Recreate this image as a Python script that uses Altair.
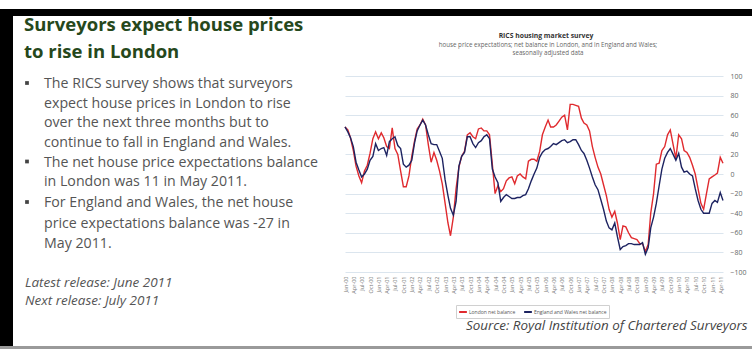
import altair as alt
import pandas as pd

# ---------------- data ----------------
START = "2000-01-01"
N_MONTHS = 137  # Jan-2000 .. May-2011

london = [48, 45, 37, 24, 8, -2, -9, 3, 9, 21, 36, 43,
          36, 42, 37, 28, 26, 47, 26, 20, 3, -13, -13, -2,
          18, 34, 46, 50, 56, 50, 30, 12, 22, 14, 3, -10,
          -30, -50, -63, -44, -15, 7, 18, 23, 40, 42, 38, 36,
          46, 47, 44, 44, 40, 10, -20, -12, -18, -15, -7, -4,
          -3, -10, -2, 0, -3, -5, 13, 15, 15, 13, 23, 40,
          48, 55, 48, 48, 50, 54, 58, 60, 45, 71, 71, 70,
          69, 57, 52, 50, 44, 28, 17, 7, 0, -11, -22, -36,
          -44, -38, -50, -67, -53, -54, -60, -65, -66, -67, -71, -71,
          -79, -72, -40, -20, 10, 11, 24, 28, 40, 45, 30, 16,
          40, 36, 24, 22, 17, 9, 0, -15, -30, -36, -20, -5,
          -3, -1, 1, 17, 11]

england_wales = [48, 43, 37, 28, 12, 4, -3, 0, 5, 14, 18, 31,
                 24, 26, 27, 19, 33, 36, 38, 29, 26, 10, 7, 9,
                 14, 32, 44, 50, 55, 50, 40, 31, 30, 30, 23, 16,
                 -6, -22, -35, -42, -28, 8, 18, 22, 38, 38, 31, 27,
                 32, 34, 38, 40, 36, 5, -3, -9, -28, -24, -21, -23,
                 -25, -25, -24, -24, -22, -21, -15, -7, 0, 6, 17, 22,
                 25, 26, 28, 31, 30, 32, 34, 35, 32, 33, 35, 35,
                 30, 24, 21, 14, 6, -3, -11, -16, -26, -36, -48, -55,
                 -57, -50, -64, -77, -74, -73, -71, -71, -72, -72, -72, -70,
                 -82, -75, -55, -44, -30, -12, 5, 16, 22, 26, 20, 14,
                 21, 7, 2, 3, 0, -2, -15, -27, -36, -40, -40, -40,
                 -30, -27, -29, -19, -27]

series_names = ["London net balance", "England and Wales net balance"]
series_colors = ["#e02a2e", "#1d2361"]
y_ticks = [-100, -80, -60, -40, -20, 0, 20, 40, 60, 80, 100]

title_lines = ["Surveyors expect house prices", "to rise in London"]
bullet_lines = [
    ["The RICS survey shows that surveyors",
     "expect house prices in London to rise",
     "over the next three months but to",
     "continue to fall in England and Wales."],
    ["The net house price expectations balance",
     "in London was 11 in May 2011."],
    ["For England and Wales, the net house",
     "price expectations balance was -27 in",
     "May 2011."],
]
release_lines = ["Latest release: June 2011", "Next release: July 2011"]
chart_title = "RICS housing market survey"
chart_subtitle = ["house price expectations; net balance in London, and in England and Wales;",
                  "seasonally adjusted data"]
source_text = "Source: Royal Institution of Chartered Surveyors"

# ---------------- layout ----------------
W, H = 752, 350
PL, PT = 345, 76          # plot origin
PW, PH = 378, 196         # plot size
FONT = "Open Sans"

dates = pd.date_range(START, periods=N_MONTHS, freq="MS")
df = pd.DataFrame({"date": dates, series_names[0]: london, series_names[1]: england_wales})
long = df.melt("date", var_name="series", value_name="value")

quarters = [alt.DateTime(year=y, month=m, date=1)
            for y in range(2000, 2012) for m in (1, 4, 7, 10)
            if not (y == 2011 and m > 4)]

lines = alt.Chart(long).mark_line(strokeWidth=1.4).encode(
    x=alt.X("date:T", scale=alt.Scale(domain=[alt.DateTime(year=2000, month=1, date=1),
                                              alt.DateTime(year=2011, month=5, date=1)]),
            axis=alt.Axis(values=quarters, format="%b-%y", formatType="time", labelAngle=-90,
                          labelFontSize=5.5, labelColor="#777", labelFont=FONT, labelPadding=4,
                          ticks=False, domain=False, grid=False, title=None, labelOverlap=False)),
    y=alt.Y("value:Q", scale=alt.Scale(domain=[-100, 100], nice=False),
            axis=alt.Axis(orient="right", values=y_ticks, labelFontSize=7, labelColor="#666",
                          labelFont=FONT, labelPadding=7, ticks=False, domain=False,
                          grid=True, gridColor="#dbe5ee", gridWidth=1, title=None)),
    color=alt.Color("series:N", scale=alt.Scale(domain=series_names, range=series_colors),
                    sort=series_names,
                    legend=alt.Legend(orient="none", legendX=111, legendY=229, direction="horizontal",
                                      symbolType="stroke", symbolSize=60, symbolStrokeWidth=2,
                                      labelFontSize=5, labelColor="#555", labelFont=FONT,
                                      strokeColor="#d0d0d0", padding=2, columnPadding=4,
                                      labelOffset=1, title=None, labelLimit=200)),
)

one = alt.Data(values=[{}])


def txt(s, x, y, size, color, weight="normal", style="normal", align="left"):
    return alt.Chart(one).mark_text(
        align=align, baseline="alphabetic", font=FONT, fontSize=size,
        fontWeight=weight, fontStyle=style, color=color
    ).encode(x=alt.value(x - PL), y=alt.value(y - PT), text=alt.value(s))


def box(x1, y1, x2, y2, color):
    return alt.Chart(one).mark_rect(color=color).encode(
        x=alt.value(x1 - PL), x2=alt.value(x2 - PL),
        y=alt.value(y1 - PT), y2=alt.value(y2 - PT))


layers = [lines]

# frame
layers.append(box(0, 9, 13, 347, "#000000"))
layers.append(box(8, 9, W, 16, "#000000"))
layers.append(box(0, 346, W, 349, "#9a9a9a"))

# title
for i, s in enumerate(title_lines):
    layers.append(txt(s, 24, 30.5 + i * 27, 18.5, "#26481c", weight="bold"))

# bullets
base_ys = [[88, 107.5, 127, 146.5], [166.5, 186], [207, 227.5, 248]]
for group, ys in zip(bullet_lines, base_ys):
    layers.append(alt.Chart(one).mark_square(size=14, color="#444", opacity=1).encode(
        x=alt.value(27 - PL), y=alt.value(ys[0] - 5 - PT)))
    for s, y in zip(group, ys):
        layers.append(txt(s, 44, y, 14.2, "#555555"))

# release dates
for i, s in enumerate(release_lines):
    layers.append(txt(s, 25, 287 + i * 17.5, 13.5, "#555555", style="italic"))

# chart titles
layers.append(txt(chart_title, 546, 38, 6.8, "#333333", weight="bold", align="center"))
for i, s in enumerate(chart_subtitle):
    layers.append(txt(s, 548, 47 + i * 7.5, 6.2, "#666666", align="center"))

# source
layers.append(txt(source_text, 466, 330, 13.4, "#444444", style="italic"))

chart = alt.layer(*layers).properties(
    width=PW, height=PH,
    padding={"left": PL, "top": PT, "right": W - PL - PW, "bottom": H - PT - PH},
    autosize=alt.AutoSizeParams(type="none"),
    background="white",
).configure_view(stroke=None)

chart.save("out.html", embed_options={"renderer": "svg", "actions": False})
